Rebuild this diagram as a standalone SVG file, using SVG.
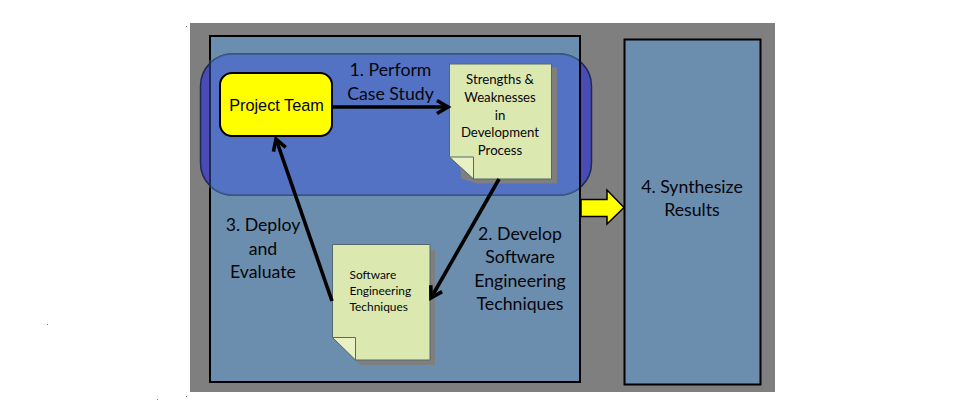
<svg xmlns="http://www.w3.org/2000/svg" width="967" height="411" viewBox="0 0 967 411">
<style>
text{font-family:Lato,"Open Sans",sans-serif;fill:#05050c;text-anchor:middle}
.lab{font-size:17.700px}
.note{font-size:13.200px}
.small{font-size:11.900px;text-anchor:start}
.page{fill:#dbe9b1;stroke:#56686c;stroke-width:1}
.fold{fill:#e8f0c4;stroke:#56686c;stroke-width:1}
.shadow{fill:#7f7f7f}
.conn{fill:none;stroke:#000;stroke-width:3.6}
.box{fill:#6c8eae;stroke:#000;stroke-width:2}
</style>
<defs>
<marker id="arr" markerUnits="userSpaceOnUse" markerWidth="20" markerHeight="20" refX="14" refY="10" orient="auto"><path d="M3 3.5L14 10L3 16.500" fill="none" stroke="#000" stroke-width="3.6"/></marker>
<clipPath id="inbox"><rect x="210" y="36" width="370" height="346"/></clipPath>
</defs>
<rect id="background" x="190" y="23" width="585" height="369" fill="#7f7f7f"/>
<g id="dots" fill="#777"><rect x="186" y="26" width="1" height="1"/><rect x="47" y="324" width="1" height="1"/><rect x="157" y="399" width="1" height="1"/><rect x="186" y="396" width="1" height="1"/></g>
<g id="left-box"><rect class="box" x="210" y="36" width="370" height="346"/></g>
<g id="band">
<rect x="200.500" y="54" width="391" height="141" rx="32" fill="#4a4cb5" stroke="#1d2a55" stroke-width="1.500"/>
<rect x="200.500" y="54" width="391" height="141" rx="32" fill="#5472c4" stroke="#3b5a88" stroke-width="1.500" clip-path="url(#inbox)"/>
<path d="M210 60V188" stroke="#1c2a50" stroke-width="2"/>
<path d="M580 55V194" stroke="#000" stroke-width="2"/>
</g>
<g id="right-box"><rect class="box" x="624.500" y="39.500" width="136" height="345"/><text class="lab" x="692" y="193">4. Synthesize</text><text class="lab" x="692" y="216">Results</text></g>
<g id="synth-arrow"><path d="M581 199.500H607V190L624 207.500L607 224V216.500H581Z" fill="#ff0" stroke="#000" stroke-width="1.500"/></g>
<g id="project-team"><rect x="220" y="73" width="112" height="63" rx="12" fill="#ff0" stroke="#000" stroke-width="2"/><text x="276.500" y="111" font-size="16.300" style="font-family:'Liberation Sans',Arial,sans-serif">Project Team</text></g>
<g id="strengths">
<path class="shadow" d="M456 68H557V184H477L461 179Z" transform="translate(0,-0.500)"/>
<path class="page" d="M449.500 64H551.500V179H473.500L449.500 157Z"/>
<path class="fold" d="M449.500 157H473.500V179Z"/>
<text class="note" x="500" y="84">Strengths &amp;</text>
<text class="note" x="500" y="102">Weaknesses</text>
<text class="note" x="500" y="120">in</text>
<text class="note" x="500" y="137">Development</text>
<text class="note" x="500" y="155">Process</text>
</g>
<g id="techniques">
<path class="shadow" d="M338 250H435V365H360L345 350Z"/>
<path class="page" d="M332.500 244.500H430V360H355.500L332.500 337.500Z"/>
<path class="fold" d="M332.500 337.500H355.500V360Z"/>
<text class="small" x="349.500" y="279">Software</text>
<text class="small" x="349.500" y="295">Engineering</text>
<text class="small" x="349.500" y="311">Techniques</text>
</g>
<g id="connectors">
<path class="conn" d="M332 107H448" marker-end="url(#arr)"/>
<path class="conn" d="M499 179L431 298" marker-end="url(#arr)"/>
<path class="conn" d="M332 301L276 139" marker-end="url(#arr)"/>
</g>
<g id="labels">
<text class="lab" x="390.500" y="76">1. Perform</text>
<text class="lab" x="390.500" y="100">Case Study</text>
<text class="lab" x="263" y="231">3. Deploy</text>
<text class="lab" x="263" y="255">and</text>
<text class="lab" x="263" y="278">Evaluate</text>
<text class="lab" x="520" y="240">2. Develop</text>
<text class="lab" x="520" y="263">Software</text>
<text class="lab" x="520" y="287">Engineering</text>
<text class="lab" x="520" y="310">Techniques</text>
</g>
</svg>
